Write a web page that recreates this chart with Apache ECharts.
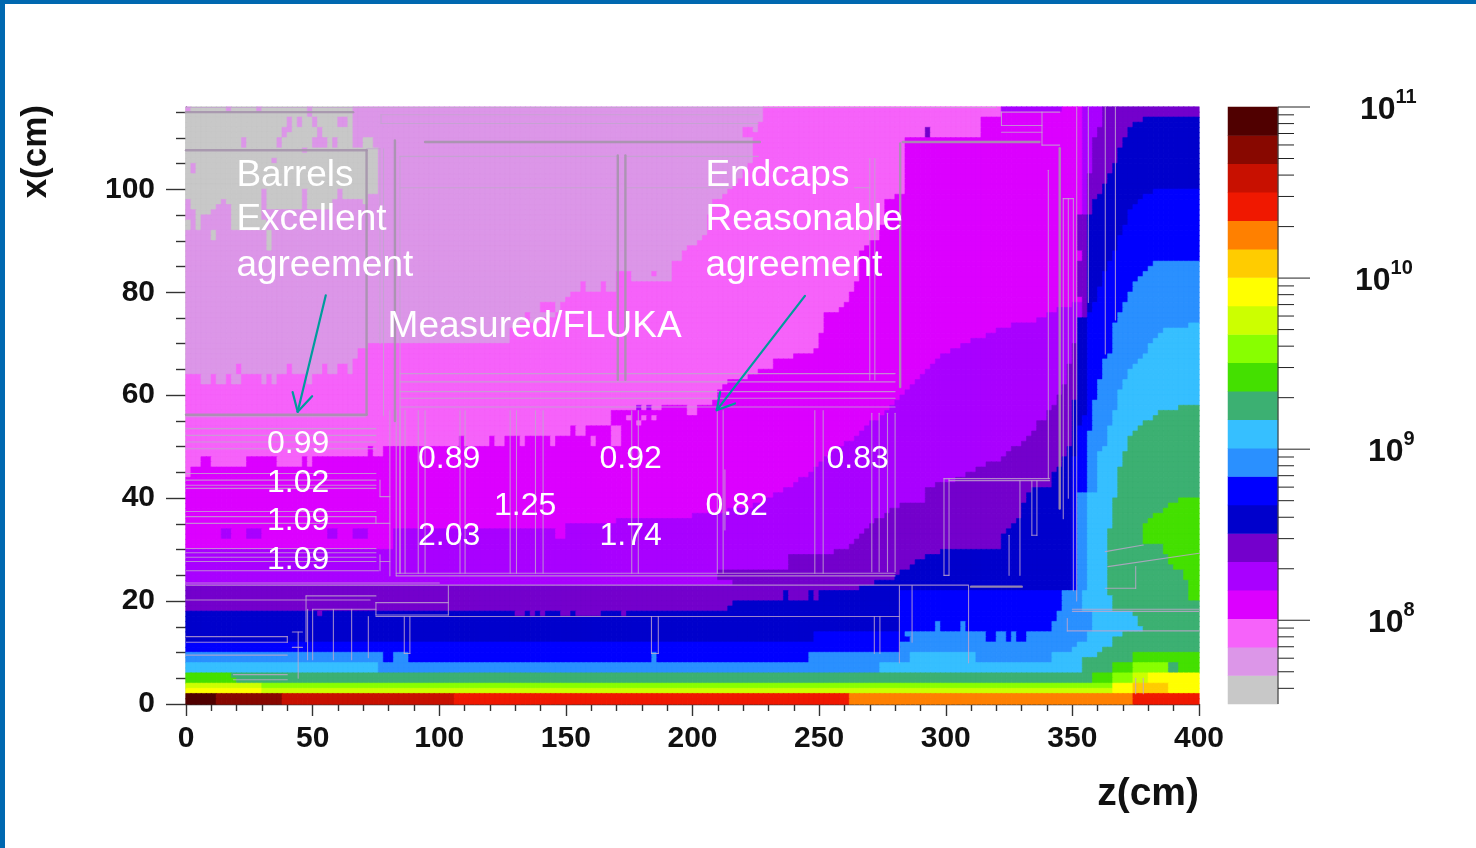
<!DOCTYPE html>
<html>
<head>
<meta charset="utf-8">
<style>html,body{margin:0;padding:0;background:#fff}#main{width:1476px;height:848px}</style>
<script src="https://cdn.jsdelivr.net/npm/echarts@6/dist/echarts.min.js"></script>
</head>
<body>
<div id="main"></div>
<script>
// Colour band per level, lowest (0) to highest (20)
const levelColors = ['#C8C8C8','#DC96E8','#F662FA','#DC00FF','#A900FF','#7400CC','#0000CC','#0000FF','#2A90FF','#36BFFF','#3CB072','#44E000','#88FF00','#CCFF00','#FFFF00','#FFCC00','#FF8000','#F01800','#C81000','#880800','#500000'];

// Field level per 1 cm row of x, from x=115 down to x=0, as run lengths: [zEnd, level, zEnd, level, ...]
const fieldRuns = [
[2,1,16,0,18,1,28,0,30,1,48,0,50,1,66,0,228,1,322,2,346,4,354,3,362,4,400,5],
[48,0,50,1,66,0,228,1,322,2,354,3,362,4,400,5],
[40,0,42,1,44,0,46,1,50,0,52,1,60,0,64,1,66,0,228,1,314,2,354,3,362,4,378,5,400,6],
[40,0,42,1,44,0,46,1,50,0,52,1,60,0,64,1,66,0,226,1,314,2,354,3,362,4,374,5,400,6],
[38,0,42,1,52,0,54,1,66,0,220,1,224,2,226,1,292,2,294,5,314,2,354,3,360,4,372,5,400,6],
[38,0,40,1,52,0,54,1,66,0,220,1,292,2,294,5,314,2,354,3,360,4,371,5,400,6],
[22,0,24,1,36,0,38,1,50,0,56,1,58,0,60,1,66,0,70,1,74,0,224,1,284,2,354,3,358,4,370,5,400,6],
[22,0,24,1,36,0,38,1,50,0,56,1,58,0,60,1,66,0,70,1,74,0,224,1,284,2,354,3,358,4,369,5,400,6],
[46,0,48,1,76,0,224,1,284,2,354,3,358,4,368,5,400,6],
[76,0,224,1,284,2,354,3,358,4,368,5,400,6],
[34,0,36,1,76,0,224,1,284,2,354,3,358,4,368,5,400,6],
[2,0,4,1,76,0,222,1,284,2,354,3,358,4,366,5,400,6],
[2,0,4,1,76,0,220,1,284,2,354,3,358,4,366,5,400,6],
[76,0,220,1,284,2,354,3,356,4,364,5,400,6],
[76,0,218,1,284,2,354,3,356,4,364,5,400,6],
[76,0,216,1,284,2,354,3,356,4,362,5,400,6],
[30,0,32,1,46,0,48,1,60,0,62,1,76,0,214,1,284,2,354,3,356,4,362,5,382,6,400,7],
[30,0,32,1,46,0,48,1,60,0,62,1,72,0,212,1,280,2,354,3,356,4,360,5,378,6,400,7],
[2,1,14,0,16,1,30,0,32,1,46,0,48,1,58,0,70,1,72,0,208,1,276,2,354,3,356,4,358,5,376,6,400,7],
[2,1,12,0,18,1,30,0,32,1,46,0,48,1,58,0,208,1,276,2,354,3,356,4,358,5,374,6,400,7],
[4,1,10,0,18,1,30,0,208,1,276,2,354,3,356,4,358,5,372,6,400,7],
[4,1,6,0,18,1,30,0,206,1,276,2,352,3,356,5,372,6,400,7],
[2,0,4,1,6,0,18,1,32,0,206,1,276,2,352,3,356,5,371,6,400,7],
[2,0,4,1,6,0,18,1,32,0,206,1,274,2,352,3,356,5,370,6,400,7],
[10,1,12,0,32,1,34,0,206,1,274,2,352,3,356,5,369,6,400,7],
[10,1,12,0,32,1,34,0,204,1,274,2,352,3,356,5,368,6,400,7],
[32,1,34,0,202,1,270,2,352,3,356,5,368,6,400,7],
[32,1,34,0,198,1,268,2,352,3,356,5,367,6,400,7],
[196,1,266,2,354,3,356,5,366,6,400,7],
[196,1,266,2,354,3,356,5,365,6,400,7],
[192,1,266,2,352,3,356,5,364,6,382,7,400,8],
[192,1,266,2,352,3,356,5,363,6,380,7,400,8],
[170,1,176,2,184,1,186,2,192,1,266,2,352,3,356,5,362,6,378,7,400,8],
[170,1,176,2,192,1,266,2,352,3,356,5,361,6,375,7,400,8],
[156,1,158,2,164,1,166,2,170,1,264,2,352,3,356,5,361,6,374,7,400,8],
[156,1,158,2,164,1,166,2,170,1,264,2,352,3,356,5,360,6,373,7,400,8],
[152,1,262,2,352,3,356,5,360,6,372,7,400,8],
[150,1,262,2,353,3,355,5,359,6,371,7,400,8],
[140,1,146,2,148,1,260,2,350,3,353,4,355,5,358,6,370,7,400,8],
[140,1,146,2,148,1,258,2,344,3,353,4,355,5,357,6,369,7,400,8],
[134,1,136,2,146,1,252,2,340,3,353,4,355,5,356,6,368,7,400,8],
[134,1,136,2,140,1,252,2,336,3,352,4,356,6,367,7,400,8],
[132,1,252,2,326,3,352,4,356,6,366,7,396,8,400,9],
[128,1,252,2,320,3,352,4,356,6,366,7,386,8,400,9],
[128,1,250,2,316,3,352,4,356,6,366,7,384,8,400,9],
[128,1,250,2,310,3,352,4,356,6,366,7,382,8,400,9],
[72,1,250,2,306,3,350,4,352,5,356,6,366,7,379,8,400,9],
[68,1,248,2,302,3,350,4,352,5,356,6,366,7,379,8,400,9],
[68,1,240,2,298,3,350,4,352,5,356,6,364,7,378,8,400,9],
[66,1,232,2,296,3,350,4,352,5,356,6,362,7,376,8,400,9],
[20,1,22,2,40,1,42,2,54,1,56,2,60,1,64,2,66,1,232,2,294,3,348,4,352,5,356,6,362,7,374,8,400,9],
[20,1,22,2,40,1,42,2,54,1,56,2,60,1,64,2,66,1,226,2,292,3,348,4,352,5,356,6,361,7,372,8,400,9],
[6,2,10,1,12,2,16,1,18,2,22,1,30,2,32,1,34,2,36,1,48,2,50,1,222,2,290,3,348,4,352,5,356,6,361,7,371,8,400,9],
[6,2,10,1,12,2,16,1,18,2,22,1,30,2,32,1,34,2,36,1,48,2,50,1,214,2,288,3,348,4,352,5,356,6,360,7,370,8,400,9],
[212,2,286,3,346,4,352,5,356,6,360,7,369,8,400,9],
[210,2,284,3,346,4,352,5,356,6,359,7,368,8,400,9],
[210,2,282,3,344,4,352,5,356,6,359,7,368,8,400,9],
[208,2,280,3,344,4,350,5,356,6,358,7,367,8,400,9],
[178,2,180,4,182,2,184,4,188,2,198,3,202,2,278,3,342,4,350,5,356,6,358,7,367,8,392,9,400,10],
[168,2,198,3,202,2,276,3,340,4,350,5,356,6,358,7,366,8,384,9,400,10],
[168,2,174,3,176,2,180,3,182,2,184,3,186,2,274,3,340,4,350,5,354,6,358,7,366,8,382,9,400,10],
[168,2,178,3,180,2,270,3,336,4,350,5,354,6,357,7,365,8,378,9,400,10],
[152,2,154,3,158,2,168,3,172,2,268,3,336,4,349,5,352,6,357,7,364,8,376,9,400,10],
[152,2,154,3,158,2,167,3,171,2,266,3,334,4,349,5,352,6,356,7,363,8,374,9,400,10],
[108,2,110,3,120,2,122,3,126,2,132,3,134,2,144,3,146,2,160,3,162,2,168,3,172,2,264,3,332,4,349,5,352,6,356,7,363,8,372,9,400,10],
[108,2,110,3,120,2,122,3,126,2,132,3,134,2,144,3,146,2,160,3,162,2,168,3,172,2,260,3,330,4,349,5,352,6,356,7,363,8,372,9,400,10],
[72,2,74,3,78,2,256,3,326,4,348,5,352,6,356,7,361,8,371,9,400,10],
[72,2,74,3,78,2,254,3,324,4,347,5,352,6,356,7,359,8,370,9,400,10],
[6,2,10,3,24,2,36,3,46,2,48,3,50,2,252,3,322,4,346,5,350,6,356,7,360,8,369,9,400,10],
[6,2,10,3,24,2,36,3,46,2,48,3,50,2,250,3,316,4,346,5,350,6,356,7,360,8,369,9,400,10],
[2,2,248,3,312,4,344,5,350,6,356,7,360,8,368,9,400,10],
[2,2,246,3,308,4,342,5,350,6,356,7,360,8,368,9,400,10],
[242,3,304,4,342,5,350,6,356,7,360,8,367,9,400,10],
[240,3,296,4,341,5,350,6,356,7,360,8,367,9,400,10],
[236,3,292,4,334,5,350,6,356,7,360,8,367,9,400,10],
[232,3,292,4,332,5,350,6,352,7,356,8,367,9,400,10],
[228,3,292,4,331,5,350,6,352,7,356,8,366,9,392,10,400,11],
[224,3,282,4,330,5,350,6,352,7,356,8,366,9,388,10,400,11],
[214,3,278,4,329,5,350,6,352,7,356,8,365,9,386,10,400,11],
[200,3,276,4,329,5,350,6,352,7,356,8,365,9,382,10,400,11],
[170,3,272,4,327,5,350,6,352,7,356,8,365,9,380,10,400,11],
[150,3,270,4,325,5,350,6,352,7,356,8,365,9,378,10,400,11],
[14,3,18,4,24,3,30,4,56,3,60,4,66,3,72,4,82,3,145,4,149,3,268,4,323,5,350,6,352,7,356,8,364,9,378,10,400,11],
[14,3,18,4,24,3,30,4,56,3,60,4,66,3,72,4,82,3,145,4,149,3,266,4,322,5,350,6,352,7,356,8,364,9,378,10,400,11],
[82,3,264,4,321,5,350,6,352,7,356,8,364,9,378,10,400,11],
[82,3,262,4,321,5,350,6,352,7,356,8,364,9,386,10,400,11],
[256,4,297,5,350,6,352,7,356,8,364,9,386,10,400,11],
[238,4,292,5,350,6,352,7,356,8,364,9,387,10,400,11],
[238,4,288,5,350,6,352,7,356,8,364,9,388,10,400,11],
[238,4,286,5,350,6,352,7,356,8,364,9,390,10,400,11],
[210,4,282,5,350,6,352,7,356,8,364,9,394,10,400,11],
[210,4,280,5,350,6,352,7,356,8,364,9,394,10,400,11],
[216,4,272,5,350,6,352,7,356,8,364,9,395,10,400,11],
[266,5,350,6,352,7,356,8,364,9,395,10,400,11],
[236,5,238,6,246,5,248,6,250,5,282,6,346,7,354,8,364,9,396,10,400,11],
[236,5,238,6,246,5,248,6,250,5,282,6,346,7,354,8,365,9,396,10,400,11],
[216,5,282,6,346,7,354,8,366,9,400,10],
[214,5,282,6,346,7,354,8,366,9,400,10],
[52,6,54,5,130,6,134,5,136,6,138,5,140,6,142,5,148,6,152,5,154,6,164,5,172,6,174,5,282,6,344,7,358,8,374,9,400,10],
[282,6,344,7,358,8,376,9,400,10],
[282,6,296,7,298,8,306,7,308,8,342,7,358,8,376,9,400,10],
[282,6,296,7,298,8,306,7,308,8,342,7,358,8,378,9,400,10],
[248,6,284,7,316,8,320,7,324,8,326,7,328,8,332,7,356,8,370,9,400,10],
[248,6,286,7,316,8,320,7,324,8,326,7,328,8,332,7,356,8,366,9,400,10],
[282,7,352,8,366,9,400,10],
[282,7,350,8,362,9,400,10],
[78,8,82,7,88,8,184,7,186,8,246,7,286,8,312,9,342,8,360,9,374,10,400,11],
[78,8,82,7,88,8,184,7,186,8,246,7,286,8,312,9,342,8,354,9,374,10,400,11],
[76,9,274,8,354,9,366,10,374,11,388,12,392,10,400,11],
[76,9,274,8,354,9,366,10,374,11,388,12,392,10,400,11],
[18,11,358,10,366,11,374,12,380,13,400,14],
[20,11,358,10,366,11,374,12,380,13,400,14],
[30,13,366,12,374,14,388,15,400,14],
[30,14,366,13,374,14,388,15,400,14],
[12,20,38,19,106,18,262,17,374,16,400,17],
[12,20,38,19,106,18,262,17,374,16,400,17]
];
const zCells = []; for (let z = 0; z < 400; z += 2) zCells.push(z);
const xCells = []; for (let x = 0; x < 116; x += 1) xCells.push(x);

// Axis ticks
const zMajorTicks = [0,50,100,150,200,250,300,350,400];
const xMajorTicks = [0,20,40,60,80,100];
const xMinorTicks = [5,10,15,25,30,35,45,50,55,65,70,75,85,90,95,105,110,115];
const barMajorTicks = [1e8,1e9,1e10,1e11];
const barMinorTicks = [4e7,5e7,6e7,7e7,8e7,9e7,2e8,3e8,4e8,5e8,6e8,7e8,8e8,9e8,2e9,3e9,4e9,5e9,6e9,7e9,8e9,9e9,2e10,3e10,4e10,5e10,6e10,7e10,8e10,9e10];
const barExponents = [8,9,10,11];

// Detector outlines, [z1, x1, z2, x2] in cm
const thickOutlines = [
[0,107.6,71.3,107.6],[71.3,107.6,71.3,56.2],[0,56.2,71.3,56.2],[82.5,109.5,82.5,55],[94.4,109.2,226.6,109.2],[283,109.2,337,109.2],
[170.5,106.6,170.5,63],[173.5,106.6,173.5,63],[282,108.9,282,61.6],[345,108,345,38],[0,115,66,115],[310,22.8,330,22.8]
];
const thinOutlines = [
[0,115.9,320,115.9],
[71.3,107.9,76.6,107.9],[76.6,107.9,76.6,70],[78,107.9,78,56],[84.5,106.4,84.5,25.4],[84.5,106.4,170,106.4],[84.5,100.3,170,100.3],
[77,114.5,226,114.5],[77,112.8,226,112.8],[77,114.5,77,112.8],[174,106.4,226,106.4],[174,100.3,216,100.3],
[84.5,64.2,280,64.2],[84.5,62.6,280,62.6],[84.5,60.7,280,60.7],[84.5,59.4,280,59.4],[84.5,57.7,280,57.7],
[270,106,270,63],[272,106,272,63],[264,100.3,270,100.3],
[340.5,103.7,340.5,43.8],[338,115,338,108.6],[338,108.6,345,108.6],[322,115,345,115],[322,115,322,112.4],[322,112.4,338,112.4],[322,111.1,338,111.1],
[351.7,116,351.7,20],[356.3,116,356.3,78],[363,116,363,68],[367,116,367,74.6],[346.4,98.2,350.4,98.2],[346.4,98.2,346.4,36],[348.4,98.2,348.4,40],[350.4,98.2,350.4,22],
[299.3,43.8,299.3,25],[301.3,43.8,301.3,25],[299.3,25,301.3,25],[299.3,43.8,341,43.8],[301.3,43.4,341,43.4],[329.3,43.4,329.3,25],[325,32.8,325,25],[334,43.4,334,32.8],[336,43.4,336,32.8],[334,32.8,336,32.8],
[270.8,56.5,270.8,25.7],[273.7,56.5,273.7,25.7],[277,56.5,277,25.7],[280,56.5,280,25.7],
[83,25.4,280,25.4],[83,24.9,280,24.9],[80.5,57,80.5,24.9],[83,57,83,24.9],
[0,23.1,309,23.1],[0,23.5,100,23.5],[281.7,23,281.7,8],[286.7,23,286.7,12],[309,23,309,8],[0,20.2,72.7,20.2],[47.4,21,75,21],[47.4,21,47.4,12.1],[50,18.4,75,18.4],
[50,18.4,50,8.6],[48,18.4,48,8.6],[58.2,18.4,58.2,8.6],[65.4,18.4,65.4,8.6],[72,17,72,9],[75,19.7,103.6,19.7],[75,17.3,103.6,17.3],[75,19.7,75,17.3],[103.6,23,103.6,17.3],[75,17,281.7,17],
[86.2,17,86.2,9.8],[88.4,17,88.4,9.8],[86.2,9.8,88.4,9.8],[271.8,17,271.8,9.8],[274,17,274,9.8],[183.8,17,183.8,9.8],[186.5,17,186.5,9.8],[183.8,9.8,186.5,9.8],
[0,13.1,40,13.1],[0,12,40,12],[40,13.1,40,12],[0,9.5,40,9.5],[18.7,5.7,40,5.7],[18.7,4.7,40,4.7],[44.3,14,44.3,5],[42,14,46,14],[42,11,46,11],
[0,55.8,71,55.8],[0,53.5,75,53.5],[0,52.2,75,52.2],[0,50.9,75,50.9],[0,49.6,75,49.6],
[0,44.8,75,44.8],[0,43.5,75,43.5],[0,42.5,75,42.5],[0,41.9,75,41.9],[0,37.4,75,37.4],[0,36.4,75,36.4],[0,35.1,75,35.1],[0,30.2,75,30.2],[0,29.4,75,29.4],[0,28.5,75,28.5],[0,27.7,75,27.7],[0,25.9,76,25.9],
[76.6,43.5,76.6,40.3],[76.6,40.3,80.5,40.3],[75,36.4,75,35.1],[75,35.1,80.5,35.1],[76.6,29,76.6,25.9],[76.6,27.7,80.5,27.7],
[84.5,57,84.5,25.4],[86.5,57,86.5,25.4],[91.7,57,91.7,25.4],[94.4,57,94.4,25.4],[108.2,57,108.2,25.4],[110.2,57,110.2,25.4],[128,57,128,25.4],[130.5,57,130.5,25.4],[138,57,138,25.4],[141,57,141,25.4],[176,57,176,25.4],[178.6,57,178.6,25.4],[209.8,57,209.8,25.4],[212.1,57,212.1,25.4],[212.8,45.5,212.8,33.8],[248.3,57,248.3,25.4],[251.6,57,251.6,25.4],
[363,29.6,378,30.9],[364,26.7,400,29.3],[375,26.7,375,22.5],[363,22.5,375,22.5],[350,18,400,18],[350,18.4,400,18.4],[348,14.2,400,14.2],[348,16.6,348,14.2],[375,5,375,2],[378,5,378,2]
];
// Teal arrows, [z1, x1, z2, x2] in cm
const arrowStrokes = [
[55.2,79.4,44.1,56.8],[42.1,60.6,44.1,56.8],[49.8,59.8,44.1,56.8],
[244.4,79.3,209.6,57.1],[210.9,60.6,209.6,57.1],[216.8,58.4,209.6,57.1]
];
// Annotations
const noteTexts = ['Barrels','Excellent','agreement','Measured/FLUKA','Endcaps','Reasonable','agreement'];
const noteZ = [19.9,19.9,19.9,79.6,205.1,205.1,205.1];
const noteX = [102.7,94,85.2,73.3,102.7,94,85.2];
const ratioTexts = ['0.99','1.02','1.09','1.09','0.89','2.03','1.25','0.92','1.74','0.82','0.83'];
const ratioZ = [32,32,32,32,91.6,91.6,121.6,163.3,163.3,205.1,252.9];
const ratioX = [50.5,42.9,35.5,27.9,47.6,32.6,38.4,47.6,32.6,38.4,47.6];

const FONT = '"Liberation Sans", Arial, sans-serif';

const cells = [];
function cell(col, row, level) {
  const c = levelColors[level];
  return { value: [col, row, level], itemStyle: { color: c, borderColor: c, borderWidth: 0.6 } };
}
fieldRuns.forEach(function (runs, i) {
  const row = 115 - i;
  zCells.forEach(function (z, col) {
    for (let k = 0; k < runs.length; k += 2) {
      if (z < runs[k]) { cells.push(cell(col, row, runs[k + 1])); break; }
    }
  });
});
const barCells = levelColors.map(function (c, i) { return { value: [0, i, i], itemStyle: { color: c } }; });

function segmentSeries(name, list, color, width) {
  return {
    type: 'custom', name: name, xAxisIndex: 1, yAxisIndex: 1, silent: true, z: 5, animation: false,
    data: list,
    dimensions: ['z1','x1','z2','x2'],
    encode: { x: [0, 2], y: [1, 3] },
    renderItem: function (p, api) {
      const a = api.coord([api.value(0), api.value(1)]);
      const b = api.coord([api.value(2), api.value(3)]);
      return { type: 'line', shape: { x1: a[0], y1: a[1], x2: b[0], y2: b[1] }, style: { stroke: color, lineWidth: width, lineCap: 'round', fill: null } };
    }
  };
}
function textSeries(name, texts, zs, xs, size) {
  return {
    type: 'custom', name: name, xAxisIndex: 1, yAxisIndex: 1, silent: true, z: 8, animation: false, clip: false,
    data: texts.map(function (t, i) { return [zs[i], xs[i]]; }),
    encode: { x: 0, y: 1 },
    renderItem: function (p, api) {
      const a = api.coord([api.value(0), api.value(1)]);
      return { type: 'text', style: { text: texts[p.dataIndex], x: a[0], y: a[1], fill: '#fff', font: size + 'px ' + FONT, textAlign: 'left', textVerticalAlign: 'middle' } };
    }
  };
}
function barTickSeries(name, values, length) {
  return {
    type: 'custom', name: name, xAxisIndex: 3, yAxisIndex: 4, silent: true, animation: false, clip: false, z: 6,
    data: values.map(function (v) { return [1, v]; }),
    encode: { x: 0, y: 1 },
    renderItem: function (p, api) {
      const a = api.coord([1, api.value(1)]);
      return { type: 'line', shape: { x1: a[0], y1: a[1], x2: a[0] + length, y2: a[1] }, style: { stroke: '#222', lineWidth: 1 } };
    }
  };
}

const chart = echarts.init(document.getElementById('main'), null, { renderer: 'canvas' });
const tickStyle = { color: '#333', width: 1.4 };
const labelStyle = { fontFamily: FONT, fontWeight: 'bold', fontSize: 30, color: '#111' };
const barLabelLeft = [1368, 1368, 1355, 1360];
chart.setOption({
  animation: false,
  backgroundColor: '#fff',
  graphic: [
    { type: 'rect', left: 0, top: 0, shape: { width: 1476, height: 4 }, style: { fill: '#0068B0' }, z: 20 },
    { type: 'rect', left: 0, top: 0, shape: { width: 5, height: 848 }, style: { fill: '#0068B0' }, z: 20 }
  ],
  grid: [
    { left: 186, top: 107, width: 1013, height: 597 },
    { left: 1228, top: 107, width: 50, height: 597 }
  ],
  xAxis: [
    { type: 'category', gridIndex: 0, data: zCells, show: false, position: 'top' },
    { type: 'value', gridIndex: 0, position: 'bottom', min: 0, max: 400, interval: 50,
      axisLine: { show: true, onZero: false, lineStyle: { color: '#333', width: 1.4 } },
      axisTick: { show: true, length: 12, lineStyle: tickStyle },
      minorTick: { show: true, splitNumber: 5, length: 7, lineStyle: tickStyle },
      splitLine: { show: false },
      axisLabel: Object.assign({ margin: 20, customValues: zMajorTicks }, labelStyle),
      name: 'z(cm)', nameLocation: 'end', nameGap: 0,
      nameTextStyle: { fontFamily: FONT, fontWeight: 'bold', fontSize: 39, color: '#111', align: 'right', verticalAlign: 'top', padding: [71, 0, 0, 0] }
    },
    { type: 'category', gridIndex: 1, data: ['bar'], show: false, position: 'top' },
    { type: 'value', gridIndex: 1, min: 0, max: 1, show: false, position: 'bottom' }
  ],
  yAxis: [
    { type: 'category', gridIndex: 0, data: xCells, show: false, position: 'right' },
    { type: 'value', gridIndex: 0, position: 'left', min: 0, max: 116,
      axisLine: { show: true, onZero: false, lineStyle: { color: '#333', width: 1.4 } },
      axisTick: { show: true, length: 20, customValues: xMajorTicks, lineStyle: tickStyle },
      splitLine: { show: false },
      axisLabel: Object.assign({ margin: 31, customValues: xMajorTicks, padding: [4, 0, 0, 0] }, labelStyle),
      name: 'x(cm)', nameLocation: 'end', nameGap: 2, nameRotate: 90,
      nameTextStyle: { fontFamily: FONT, fontWeight: 'bold', fontSize: 35, color: '#111', align: 'right', verticalAlign: 'bottom', padding: [0, 0, 132, 0] }
    },
    { type: 'value', gridIndex: 0, min: 0, max: 116, position: 'left', offset: 0,
      axisLine: { show: false },
      axisTick: { show: true, length: 10, customValues: xMinorTicks, lineStyle: tickStyle },
      axisLabel: { show: false }, splitLine: { show: false } },
    { type: 'category', gridIndex: 1, data: levelColors.map(function (c, i) { return i; }), show: false, position: 'right' },
    { type: 'log', gridIndex: 1, min: 3.24e7, max: 1e11, show: false, position: 'left' }
  ],
  series: [
    { type: 'heatmap', name: 'field', xAxisIndex: 0, yAxisIndex: 0, data: cells, silent: true, progressive: 0, emphasis: { disabled: true }, z: 2 },
    { type: 'heatmap', name: 'scale', xAxisIndex: 2, yAxisIndex: 3, data: barCells, silent: true, emphasis: { disabled: true }, z: 2 },
    segmentSeries('outlines', thinOutlines, 'rgba(192,165,205,0.8)', 1.1),
    segmentSeries('heavy outlines', thickOutlines, 'rgba(165,148,172,0.9)', 2.4),
    segmentSeries('arrows', arrowStrokes, '#009C9C', 2.2),
    textSeries('notes', noteTexts, noteZ, noteX, 37),
    textSeries('ratios', ratioTexts, ratioZ, ratioX, 32),
    { type: 'custom', name: 'bar spine', xAxisIndex: 3, yAxisIndex: 4, silent: true, animation: false, clip: false, z: 6,
      data: [[1, 3.24e7, 1e11]], encode: { x: 0, y: [1, 2] },
      renderItem: function (p, api) {
        const a = api.coord([1, api.value(1)]), b = api.coord([1, api.value(2)]);
        return { type: 'line', shape: { x1: a[0], y1: a[1], x2: b[0], y2: b[1] }, style: { stroke: '#444', lineWidth: 1.2 } };
      } },
    barTickSeries('major ticks', barMajorTicks, 32),
    barTickSeries('minor ticks', barMinorTicks, 16),
    { type: 'custom', name: 'scale labels', xAxisIndex: 3, yAxisIndex: 4, silent: true, animation: false, clip: false, z: 6,
      data: barExponents.map(function (e, i) { return [1, barMajorTicks[i]]; }), encode: { x: 0, y: 1 },
      renderItem: function (p, api) {
        const a = api.coord([1, api.value(1)]);
        return { type: 'text', style: {
          text: '{b|10}{s|' + barExponents[p.dataIndex] + '}', x: barLabelLeft[p.dataIndex], y: a[1] + 3, textAlign: 'left', textVerticalAlign: 'middle',
          rich: {
            b: { fontFamily: FONT, fontWeight: 'bold', fontSize: 32, fill: '#111', color: '#111', lineHeight: 46, verticalAlign: 'middle' },
            s: { fontFamily: FONT, fontWeight: 'bold', fontSize: 20, fill: '#111', color: '#111', lineHeight: 20, verticalAlign: 'top' }
          } } };
      } }
  ]
});
</script>
</body>
</html>
